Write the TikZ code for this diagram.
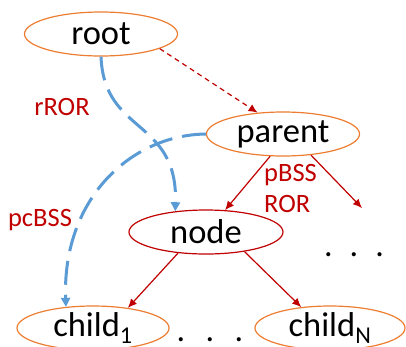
\documentclass[tikz,border=0pt]{standalone}
\usepackage{fontspec}
\setmainfont{Carlito}
\usetikzlibrary{shapes.geometric,arrows.meta}
\definecolor{tree}{RGB}{237, 125, 49}
\definecolor{cur}{RGB}{192, 0, 0}
\definecolor{jump}{RGB}{91, 155, 213}

\begin{document}
\begin{tikzpicture}[x=1pt, y=-1pt]
    \tikzstyle{oblock} = [ellipse, draw=tree, line width=1.2pt, inner sep=0pt,
    minimum width=153pt, minimum height=44pt, font=\fontsize{34.5}{40}\selectfont];
    \tikzstyle{rblock} = [ellipse, draw=cur, line width=1.2pt, inner sep=0pt,
    minimum width=154pt, minimum height=44pt, font=\fontsize{34.5}{40}\selectfont];
    \tikzstyle{dots} = [inner sep=0pt, font=\fontsize{34}{40}\selectfont];
    \tikzstyle{lbl} = [inner sep=0pt, text=cur, font=\fontsize{26.5}{31}\selectfont];
    \tikzstyle{line} = [draw=cur, line width=1.2pt, -{Latex[length=9pt,width=8pt]}];
    \tikzstyle{bline} = [draw=jump, line width=3pt, dash pattern=on 24pt off 10pt,
    -{Triangle[length=9pt,width=9pt]}];
    \useasboundingbox (0,0) rectangle (406,346);

    % Tree
    \node [oblock] (root) at (101,34) {root};
    \node [oblock] (parent) at (283,134) {parent};
    \node [rblock] (node) at (206,232) {node};
    \node [oblock, minimum width=152pt] (child1) at (93,328) {child\textsubscript{1}};
    \node [oblock, minimum width=150pt] (childN) at (330,328) {child\textsubscript{N}};
    \node [dots] (dotsA) at (210,340) {.\hspace{0.6em}.\hspace{0.6em}.};
    \node [dots] (dotsB) at (354,255) {.\hspace{0.5em}.\hspace{0.5em}.};
    \coordinate (more) at (362,208);

    % Labels
    \node [lbl] (rror) at (62,107) {rROR};
    \node [lbl] (pcbss) at (40,220) {pcBSS};
    \node [lbl, anchor=north west, align=left] (pbss) at (264,164) {pBSS\\ROR};

    % Drawing the links
    \draw [line, dash pattern=on 5pt off 4pt] (root.-14) -- (parent.140);
    \draw [line] (parent.-120) -- (node.49);
    \draw [line] (parent.-37) -- (more);
    \draw [line] (node.-143) -- (child1.30);
    \draw [line] (node.-27) -- (childN.144);
    \draw [bline] (root.-90) .. controls (104,135) and (178,118) .. (node.146);
    \draw [bline] (parent.180) .. controls (130,135) and (62,200) .. (child1.142);
\end{tikzpicture}
\end{document}
